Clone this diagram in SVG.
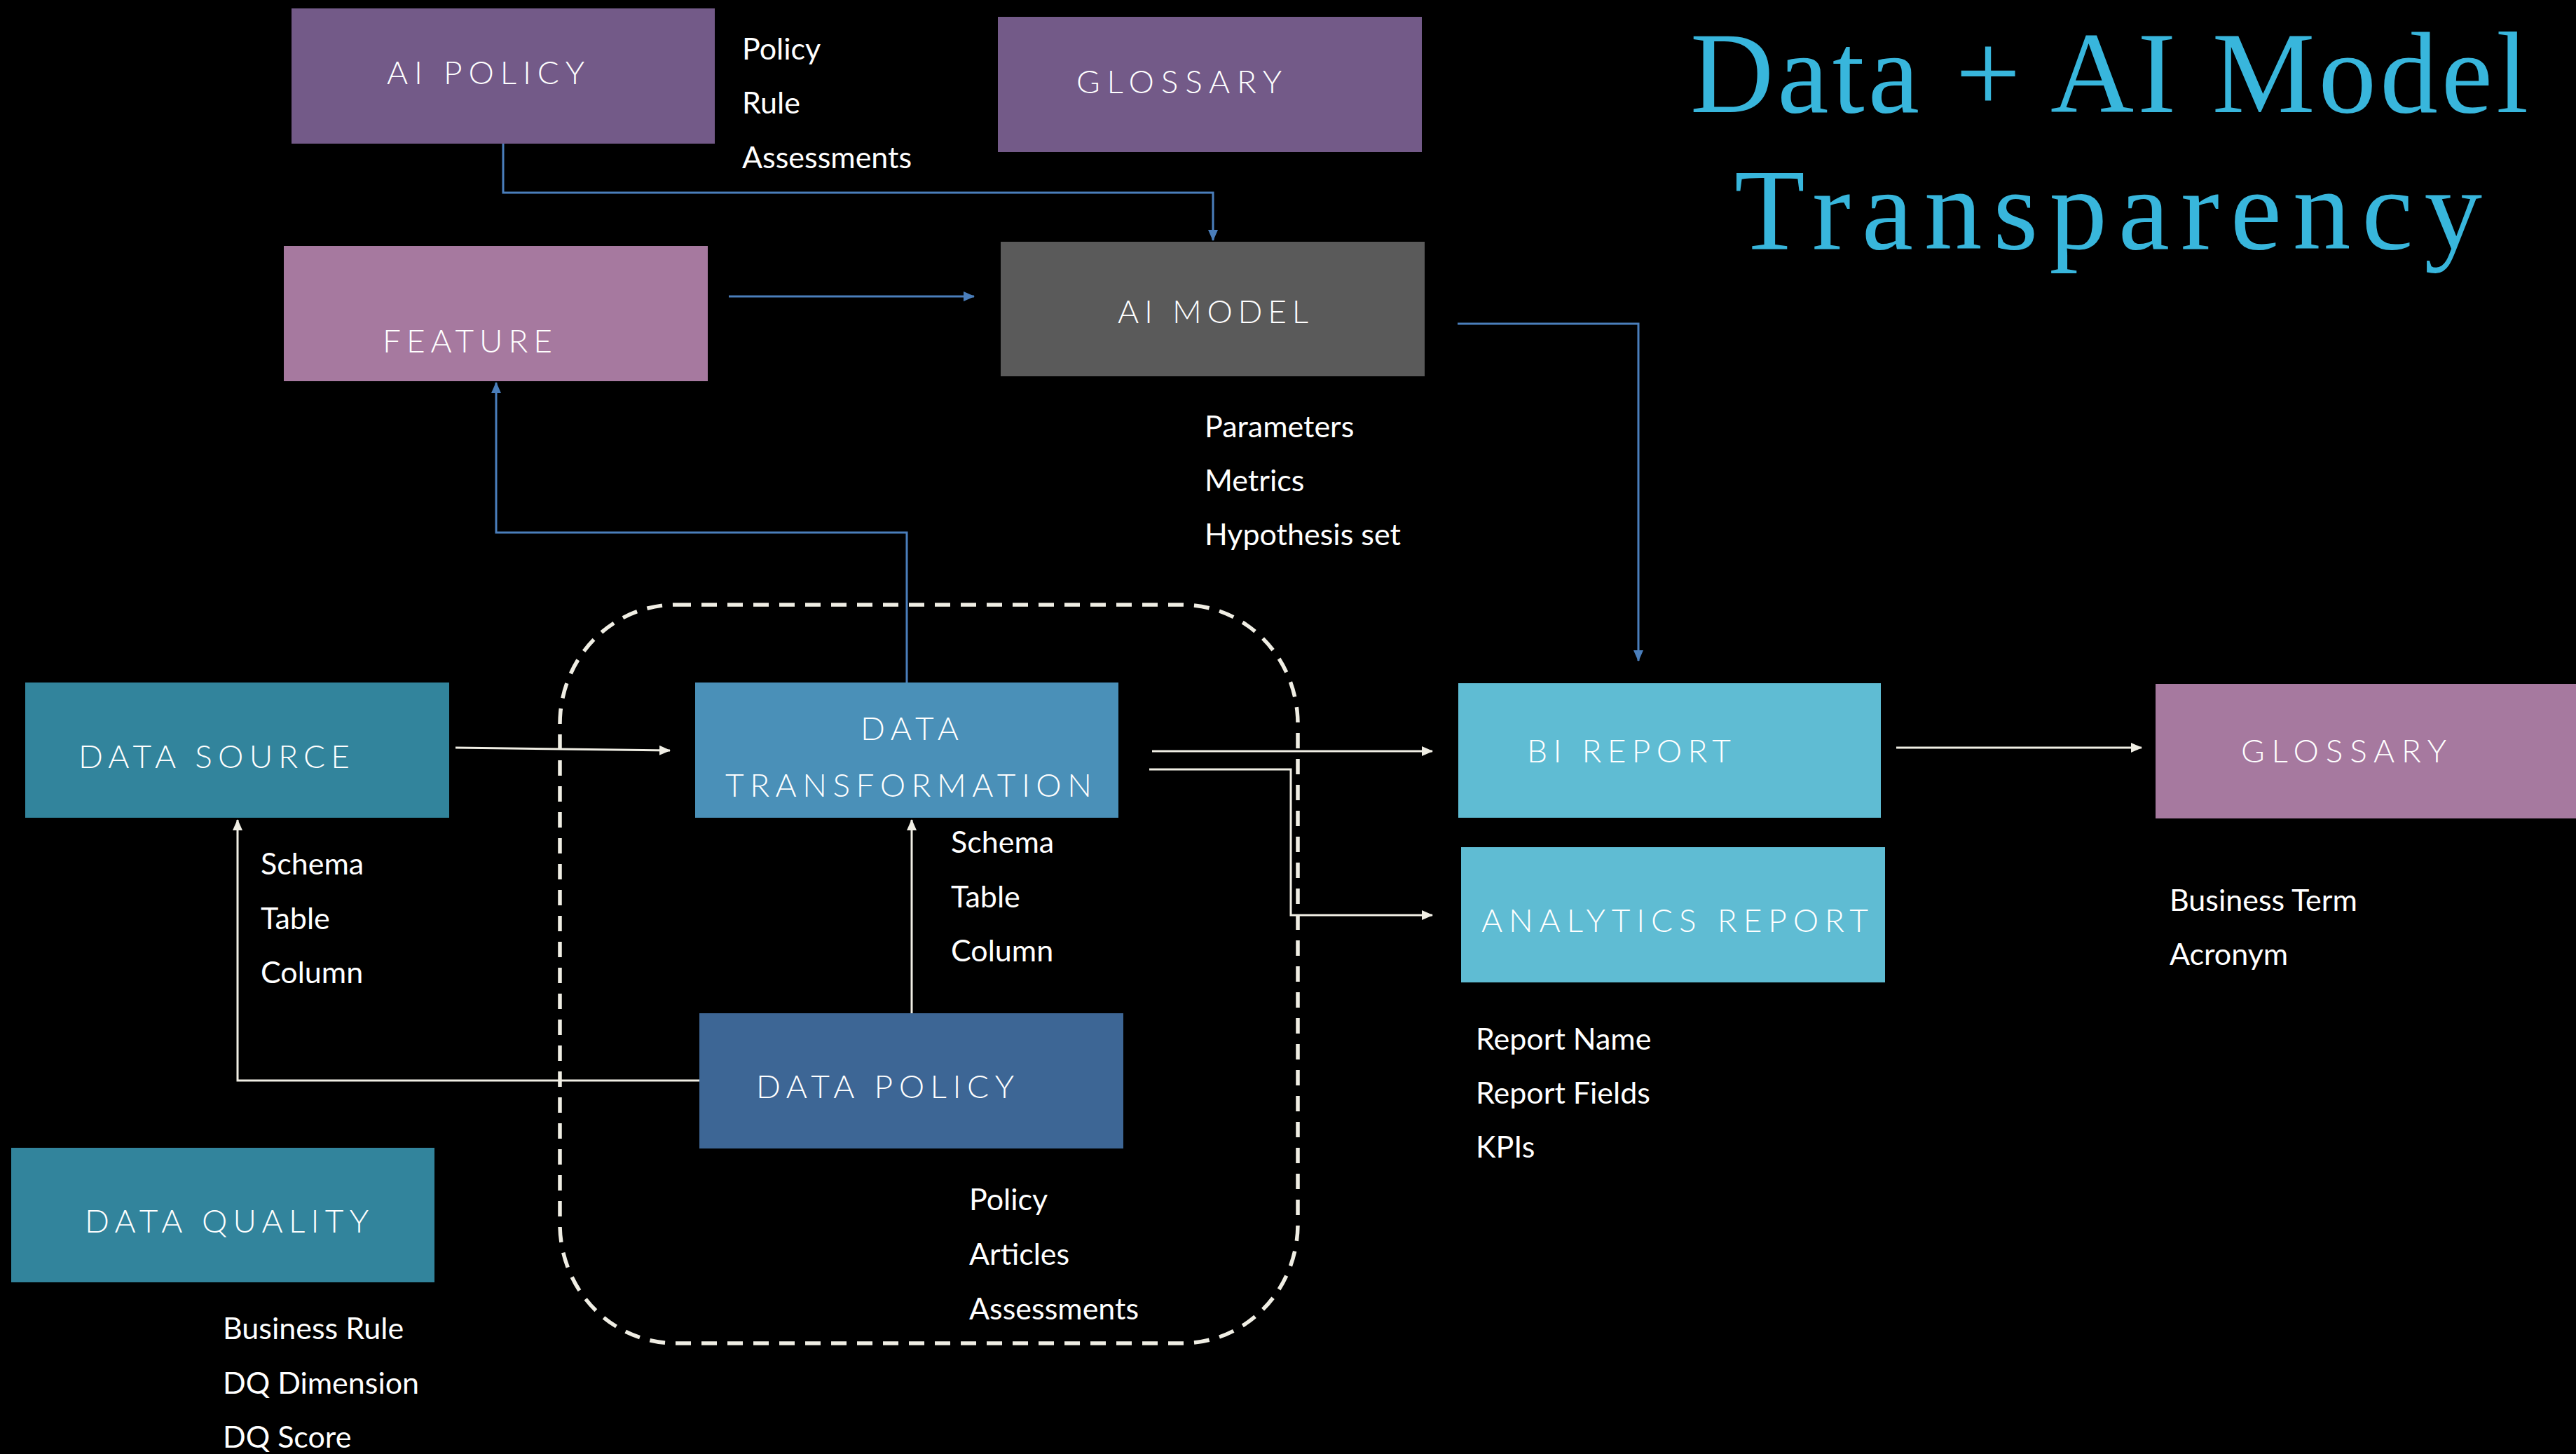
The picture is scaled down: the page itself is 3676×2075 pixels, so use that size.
<svg xmlns="http://www.w3.org/2000/svg" width="3676" height="2075" viewBox="0 0 3676 2075">
<defs>
<style>
.bg{fill:#000000}
.lbl{font-family:Lato,"Open Sans","Liberation Sans",sans-serif;font-weight:300;font-size:46px;fill:#ffffff}
.lst{font-family:Lato,"Open Sans","Liberation Sans",sans-serif;font-size:43px;fill:#ffffff}
.ttl{font-family:"Liberation Serif","DejaVu Serif",serif;font-size:165px;fill:#38b6dc}
.wl{fill:none;stroke:#f0eee4;stroke-width:3}
.bl{fill:none;stroke:#4a7ebb;stroke-width:3}
.purple{fill:#735a88}
.pink{fill:#a6799f}
.grey{fill:#5a5a5a}
.teal{fill:#32849c}
.mid{fill:#4a90b8}
.navy{fill:#3d6695}
.light{fill:#5fbcd3}
</style>
<marker id="aw" markerUnits="userSpaceOnUse" markerWidth="16" markerHeight="14" viewBox="0 0 16 14" refX="15" refY="7" orient="auto">
<path d="M0,0 L16,7 L0,14 z" fill="#f0eee4"/>
</marker>
<marker id="ab" markerUnits="userSpaceOnUse" markerWidth="16" markerHeight="14" viewBox="0 0 16 14" refX="15" refY="7" orient="auto">
<path d="M0,0 L16,7 L0,14 z" fill="#4a7ebb"/>
</marker>
</defs>
<rect class="bg" x="0" y="0" width="3676" height="2075"/>

<g id="title">
<text class="ttl" x="2412" y="160" textLength="1196" lengthAdjust="spacing">Data + AI Model</text>
<text class="ttl" x="2475" y="355" textLength="1067" lengthAdjust="spacing">Transparency</text>
</g>

<g id="boundary">
<rect x="799" y="863" width="1053" height="1054" rx="165" ry="170" fill="none" stroke="#f0eee4" stroke-width="5.5" stroke-dasharray="22 15"/>
</g>

<g id="connectors">
<path class="bl" d="M718,205 V275 H1731 V343" marker-end="url(#ab)"/>
<path class="bl" d="M1040,423 H1390" marker-end="url(#ab)"/>
<path class="bl" d="M1294,974 V760 H708 V546" marker-end="url(#ab)"/>
<path class="bl" d="M2080,462 H2338 V943" marker-end="url(#ab)"/>
<path class="wl" d="M650,1067 L956,1071" marker-end="url(#aw)"/>
<path class="wl" d="M1301,1446 V1170" marker-end="url(#aw)"/>
<path class="wl" d="M998,1542 H339 V1170" marker-end="url(#aw)"/>
<path class="wl" d="M1644,1072 H2044" marker-end="url(#aw)"/>
<path class="wl" d="M1640,1098 H1842 V1306 H2044" marker-end="url(#aw)"/>
<path class="wl" d="M2706,1067 H3056" marker-end="url(#aw)"/>
</g>

<g id="ai-policy">
<rect class="purple" x="416" y="12" width="604" height="193"/>
<text class="lbl" x="552" y="120" textLength="282" lengthAdjust="spacing">AI POLICY</text>
<text class="lst" x="1059" y="85">Policy</text>
<text class="lst" x="1059" y="162">Rule</text>
<text class="lst" x="1059" y="240">Assessments</text>
</g>

<g id="glossary-top">
<rect class="purple" x="1424" y="24" width="605" height="193"/>
<text class="lbl" x="1536" y="133" textLength="293" lengthAdjust="spacing">GLOSSARY</text>
</g>

<g id="feature">
<rect class="pink" x="405" y="351" width="605" height="193"/>
<text class="lbl" x="546" y="503" textLength="242" lengthAdjust="spacing">FEATURE</text>
</g>

<g id="ai-model">
<rect class="grey" x="1428" y="345" width="605" height="192"/>
<text class="lbl" x="1595" y="461" textLength="272" lengthAdjust="spacing">AI MODEL</text>
<text class="lst" x="1719" y="624">Parameters</text>
<text class="lst" x="1719" y="701">Metrics</text>
<text class="lst" x="1719" y="778">Hypothesis set</text>
</g>

<g id="data-source">
<rect class="teal" x="36" y="974" width="605" height="193"/>
<text class="lbl" x="112" y="1096" textLength="387" lengthAdjust="spacing">DATA SOURCE</text>
<text class="lst" x="372" y="1248">Schema</text>
<text class="lst" x="372" y="1326">Table</text>
<text class="lst" x="372" y="1403">Column</text>
</g>

<g id="data-transformation">
<rect class="mid" x="992" y="974" width="604" height="193"/>
<text class="lbl" x="1228" y="1056" textLength="140" lengthAdjust="spacing">DATA</text>
<text class="lbl" x="1035" y="1137" textLength="523" lengthAdjust="spacing">TRANSFORMATION</text>
<text class="lst" x="1357" y="1217">Schema</text>
<text class="lst" x="1357" y="1295">Table</text>
<text class="lst" x="1357" y="1372">Column</text>
</g>

<g id="data-policy">
<rect class="navy" x="998" y="1446" width="605" height="193"/>
<text class="lbl" x="1079" y="1567" textLength="368" lengthAdjust="spacing">DATA POLICY</text>
<text class="lst" x="1383" y="1727">Policy</text>
<text class="lst" x="1383" y="1805">Articles</text>
<text class="lst" x="1383" y="1883">Assessments</text>
</g>

<g id="data-quality">
<rect class="teal" x="16" y="1638" width="604" height="192"/>
<text class="lbl" x="121" y="1759" textLength="405" lengthAdjust="spacing">DATA QUALITY</text>
<text class="lst" x="318" y="1911">Business Rule</text>
<text class="lst" x="318" y="1989">DQ Dimension</text>
<text class="lst" x="318" y="2066">DQ Score</text>
</g>

<g id="bi-report">
<rect class="light" x="2081" y="975" width="603" height="192"/>
<text class="lbl" x="2179" y="1088" textLength="291" lengthAdjust="spacing">BI REPORT</text>
</g>

<g id="analytics-report">
<rect class="light" x="2085" y="1209" width="605" height="193"/>
<text class="lbl" x="2114" y="1330" textLength="552" lengthAdjust="spacing">ANALYTICS REPORT</text>
<text class="lst" x="2106" y="1498">Report Name</text>
<text class="lst" x="2106" y="1575">Report Fields</text>
<text class="lst" x="2106" y="1652">KPIs</text>
</g>

<g id="glossary-right">
<rect class="pink" x="3076" y="976" width="600" height="192"/>
<text class="lbl" x="3198" y="1088" textLength="293" lengthAdjust="spacing">GLOSSARY</text>
<text class="lst" x="3096" y="1300">Business Term</text>
<text class="lst" x="3096" y="1377">Acronym</text>
</g>
</svg>
